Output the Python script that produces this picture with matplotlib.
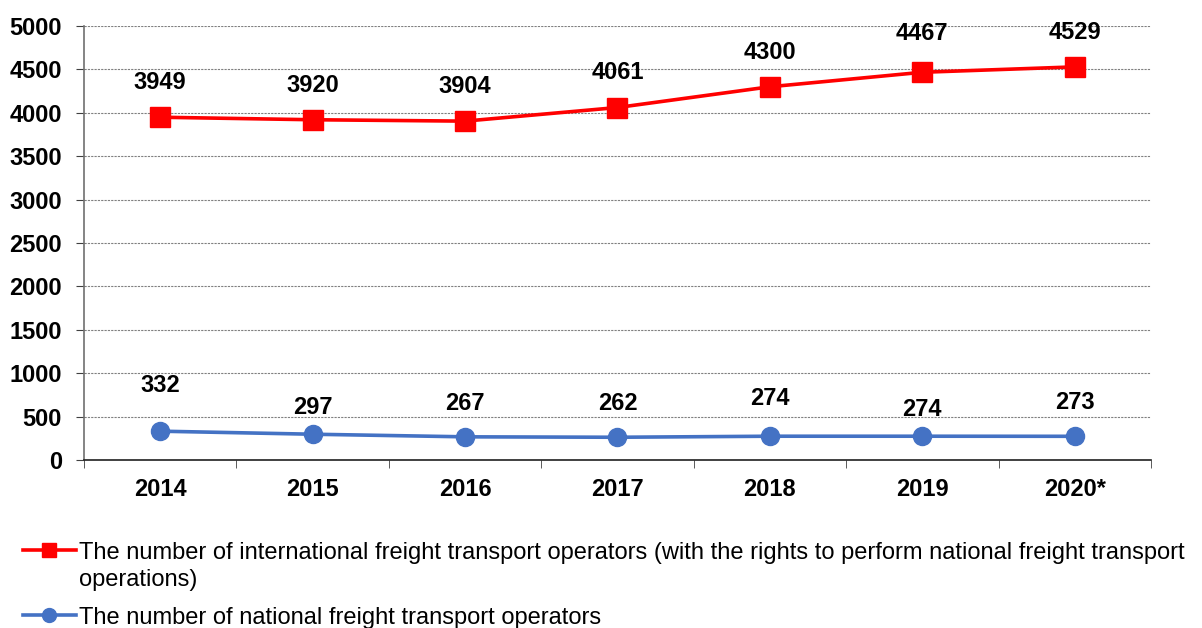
import matplotlib

matplotlib.use("Agg")
import matplotlib.pyplot as plt
import matplotlib.transforms as mtransforms
import numpy as np
from matplotlib.lines import Line2D

years = ["2014", "2015", "2016", "2017", "2018", "2019", "2020*"]
international = [3949, 3920, 3904, 4061, 4300, 4467, 4529]
national = [332, 297, 267, 262, 274, 274, 273]

intl_label = "The number of international freight transport operators (with the rights to perform national freight transport"
intl_label_wrap = "operations)"
nat_label = "The number of national freight transport operators"

plt.rcParams["font.family"] = ["Liberation Sans", "DejaVu Sans"]

fig = plt.figure(figsize=(12.02, 6.28), dpi=100)
ax = fig.add_axes([84 / 1202, 1 - 460 / 628, (1151 - 84) / 1202, (460 - 26) / 628])

x = np.arange(len(years))
red = "#FF0000"
blue = "#4472C4"
ax.plot(x, international, color=red, linewidth=2.6, marker="s", markersize=14, zorder=3)
ax.plot(x, national, color=blue, linewidth=2.6, marker="o", markersize=13, zorder=3)

# label offsets in points above each marker
red_off = [25, 25, 25, 25, 25, 28, 25]
blue_off = [33, 19, 24, 24, 27, 19, 24]
for xi, v, off in zip(x, international, red_off):
    ax.annotate(str(v), (xi, v), xytext=(0, off), textcoords="offset points",
                ha="center", va="center", fontsize=17, fontweight="bold")
for xi, v, off in zip(x, national, blue_off):
    ax.annotate(str(v), (xi, v), xytext=(0, off), textcoords="offset points",
                ha="center", va="center", fontsize=17, fontweight="bold")

ax.set_xlim(-0.5, len(years) - 0.5)
ax.set_ylim(0, 5000)
ax.set_yticks(np.arange(0, 5001, 500))
ax.set_xticks(x)
ax.set_xticklabels(years, fontsize=17, fontweight="bold")
ax.set_xticks(np.arange(-0.5, len(years), 1), minor=True)
ax.tick_params(axis="x", which="major", length=0, pad=13)
ax.tick_params(axis="x", which="minor", length=6, color="#404040", direction="out")
ax.tick_params(axis="y", length=6, color="#404040", labelsize=17, pad=10)
for lab in ax.get_yticklabels():
    lab.set_fontweight("bold")

ax.grid(axis="y", color="#808080", linestyle=(0, (2, 1)), linewidth=0.8)
ax.set_axisbelow(True)
for side in ["top", "right"]:
    ax.spines[side].set_visible(False)
ax.spines["left"].set_color("#707070")
ax.spines["bottom"].set_color("#202020")
ax.spines["left"].set_linewidth(1.2)
ax.spines["bottom"].set_linewidth(1.2)

handles = [
    Line2D([], [], color=red, linewidth=2.6, marker="s", markersize=10),
    Line2D([], [], color=blue, linewidth=2.6, marker="o", markersize=10),
]
leg = fig.legend(handles, [intl_label, nat_label], loc="lower left", bbox_to_anchor=(0.011, -0.016),
                 frameon=False, fontsize=17, handlelength=2.25, handletextpad=0.15, labelspacing=1.82,
                 borderaxespad=0)

# wrapped second line of the first legend entry, kept next to the handle's line like the original
fig.canvas.draw()
bb = leg.get_texts()[0].get_window_extent(fig.canvas.get_renderer())
fig.text(bb.x0, bb.y0 - 27, intl_label_wrap, fontsize=17, ha="left", va="bottom",
         transform=mtransforms.IdentityTransform())

fig.savefig("out.png", dpi=100)
